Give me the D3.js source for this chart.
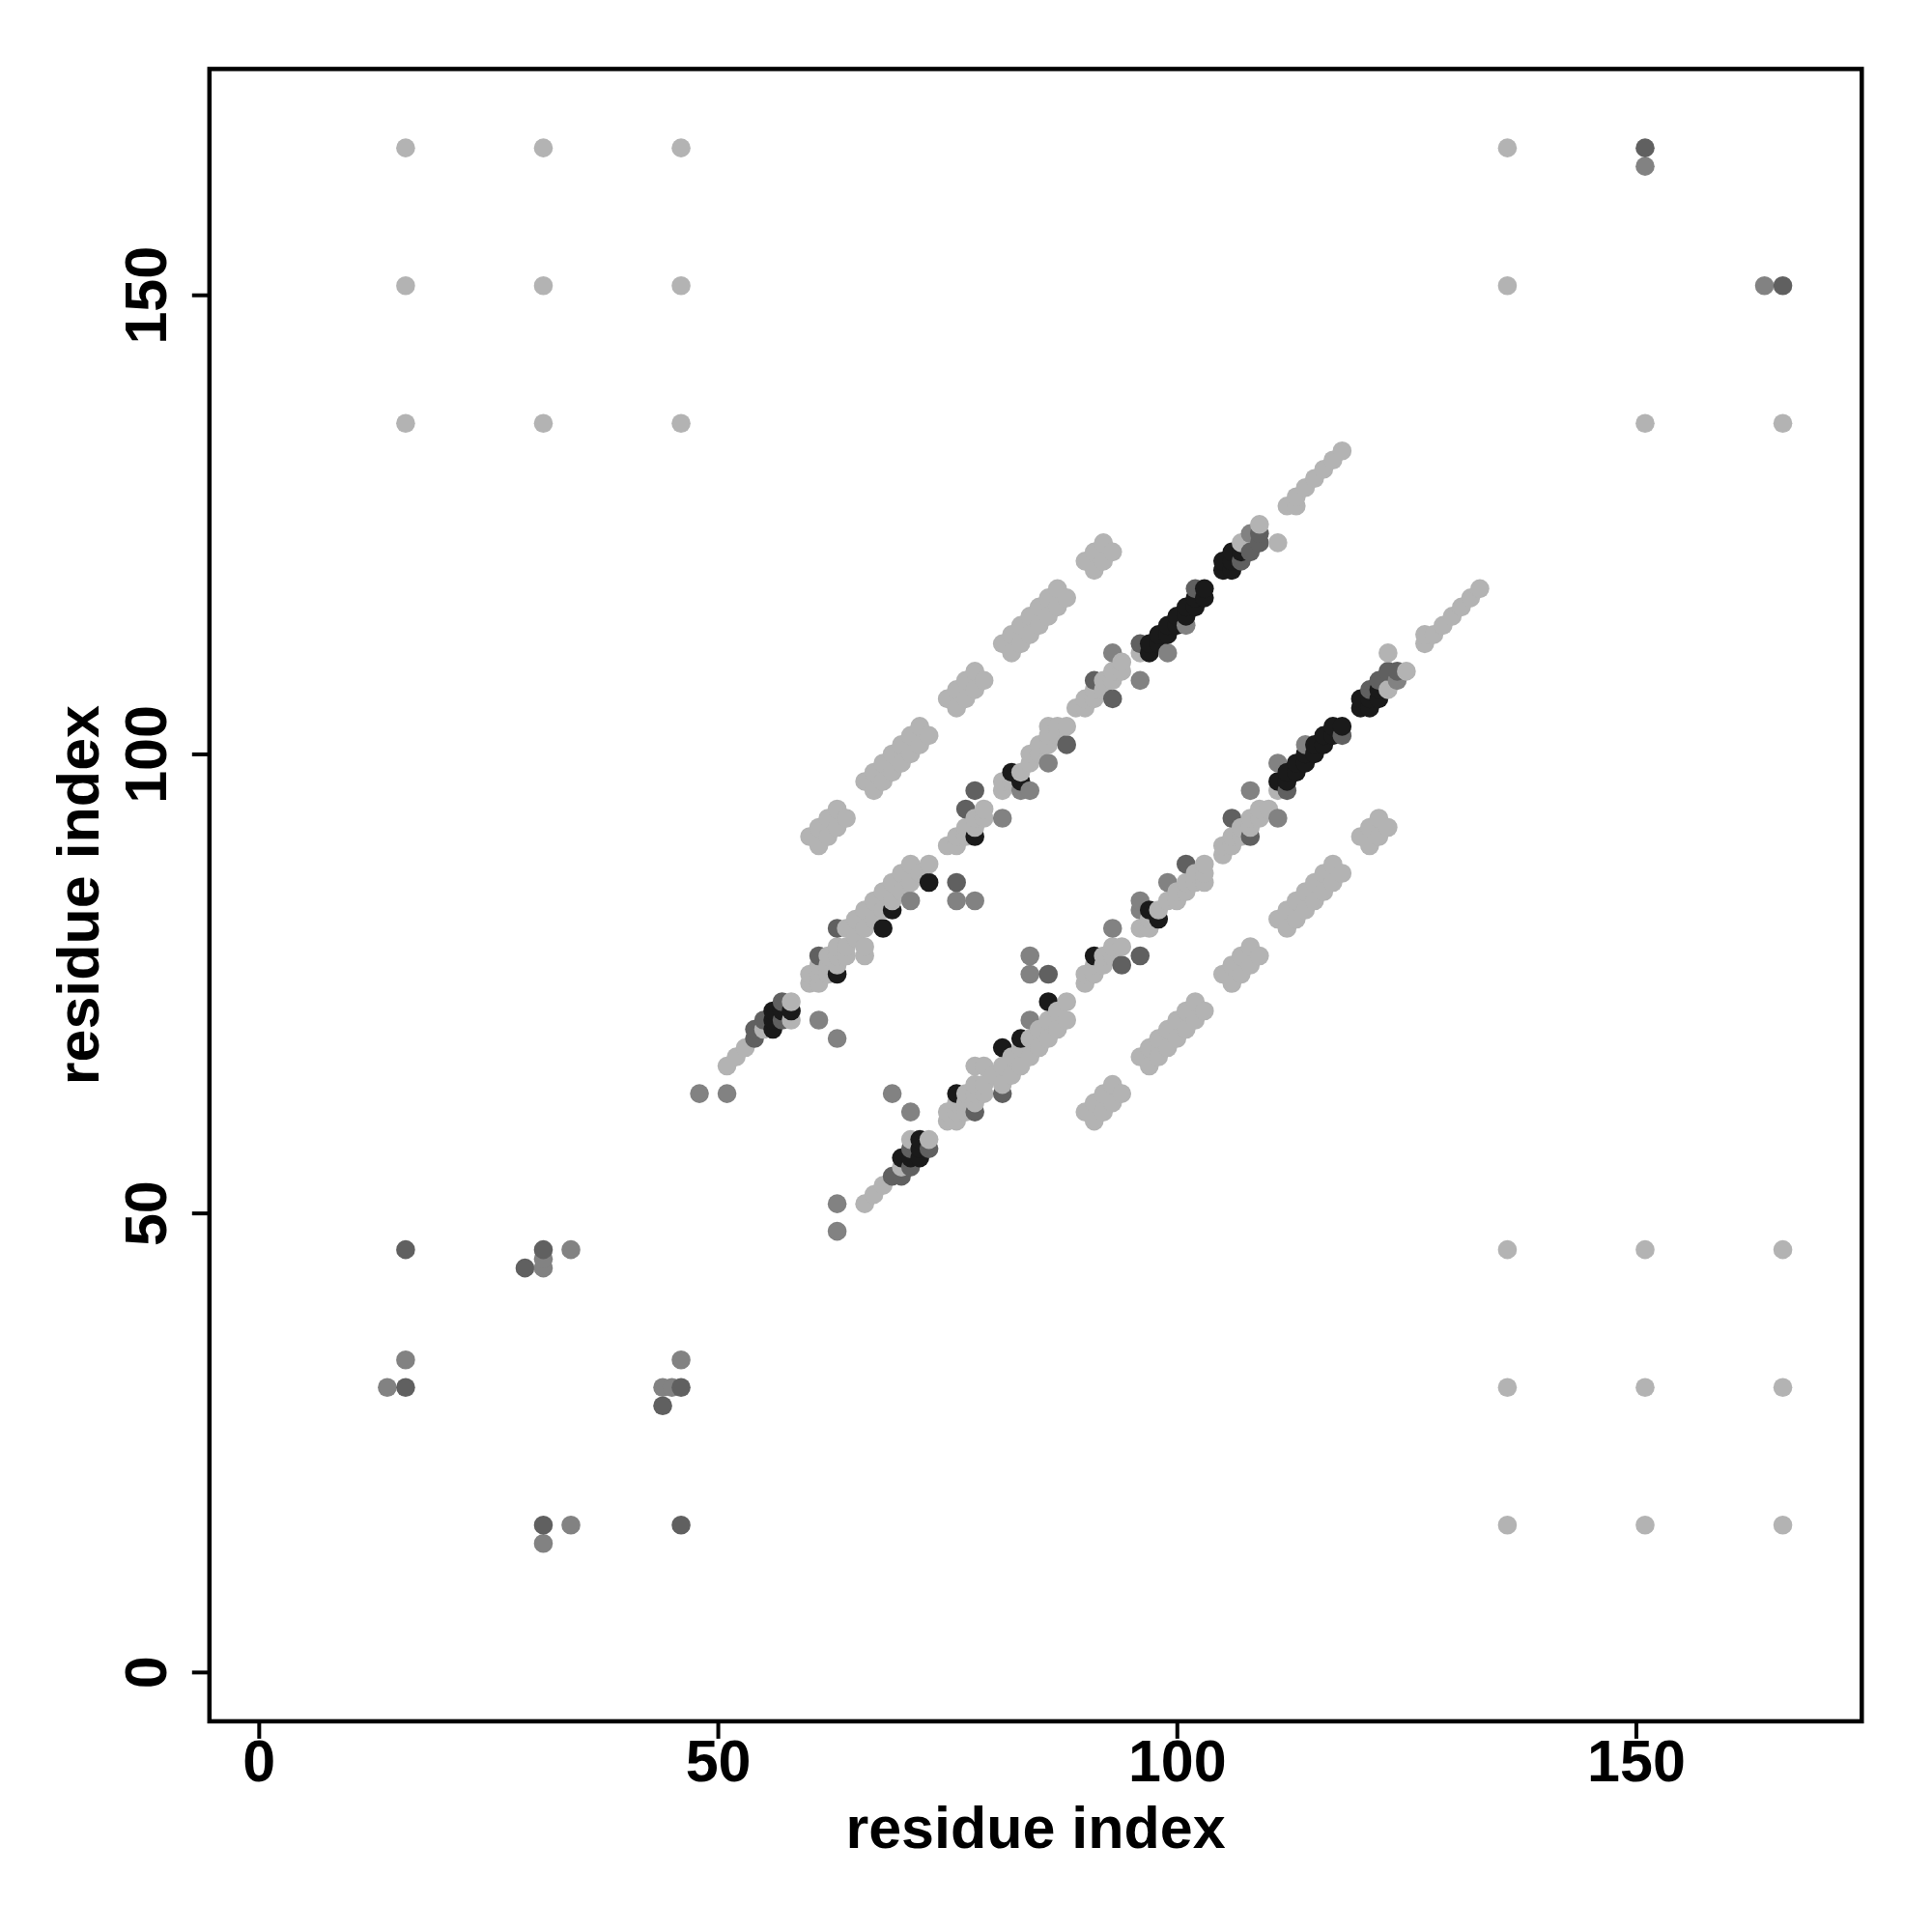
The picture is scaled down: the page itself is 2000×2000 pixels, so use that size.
<!DOCTYPE html>
<html>
<head>
<meta charset="utf-8">
<script src="https://cdn.jsdelivr.net/npm/d3@7"></script>
<style>
  html, body { margin: 0; padding: 0; background: #ffffff; }
  svg { display: block; }
</style>
</head>
<body>
<svg id="chart" width="2000" height="2000"></svg>
<script>
// Contact map: each contact [i, j] (i > j) is drawn at (i, j) and mirrored at (j, i).
const xTicks = [0, 50, 100, 150];
const yTicks = [0, 50, 100, 150];
const xTitle = "residue index";
const yTitle = "residue index";

const lightContacts = [
  [136,16],[136,31],[136,46],[151,16],[151,31],[151,46],[166,16],[166,31],[166,46],[151,136],[166,136],
  [66,51],[67,52],[68,53],[70,55],[71,58],[73,58],
  [75,60],[75,61],[76,60],[76,61],[76,62],[77,61],[77,62],[77,63],[78,62],[78,63],[78,64],[78,66],[79,63],[79,64],[79,66],
  [80,65],[81,64],[81,66],[82,65],[82,67],[83,66],[83,68],[84,67],[84,69],[85,68],[85,70],[86,69],[86,71],[87,70],[87,72],[88,71],[88,73],
  [90,75],[90,76],[91,76],[91,77],[92,77],[92,78],[93,78],[93,79],[94,79],
  [96,81],[97,81],[97,82],[98,83],[99,84],[100,84],[100,85],[101,85],[101,86],[102,86],[102,87],[103,86],[103,87],[103,88],
  [105,89],[105,90],[106,90],[106,91],[107,91],[107,92],[108,92],[108,93],[109,93],[109,94],[110,94],
  [111,96],[123,107],[123,111],[125,109],[127,112],[127,113],[128,113],[129,114],[130,115],[131,116],[132,117],[133,118],
  [90,61],[91,62],[92,63],[93,64],[91,60],[92,61],[93,62],[94,63],
  [96,67],[97,68],[98,69],[99,70],[100,71],[101,72],[102,73],[97,66],[98,67],[99,68],[100,69],[101,70],[102,71],[103,72],
  [105,76],[106,77],[107,78],[108,79],[106,75],[107,76],[108,77],[109,78],
  [111,82],[112,83],[113,84],[114,85],[115,86],[116,87],[117,88],[112,81],[113,82],[114,83],[115,84],[116,85],[117,86],[118,87],
  [120,91],[121,92],[122,93],[121,90],[122,91],[123,92]
];

const midContacts = [
  [164,151],[46,34],[45,31],[44,31],[34,16],[31,14],
  [63,48],[63,51],[69,63],[71,61],[84,71],[84,76],[84,78],[93,81],[96,83],[96,84],[99,86],
  [108,96],[111,93],[111,99],[114,101],[124,108]
];

const darkContacts = [
  [166,151],[46,16],[46,31],[44,29],[31,16],
  [69,54],[70,54],[71,55],[71,57],[73,57],[78,61],[81,63],[86,76],[94,77],[96,78],[101,88],
  [106,93],[108,91],[112,96],[118,102],[121,107],[122,108],[123,109],[124,109]
];

const blackContacts = [
  [70,56],[71,56],[72,56],[72,57],[72,58],[76,63],[81,68],[83,69],[86,73],[91,78],[97,83],[98,82],
  [111,97],[112,97],[112,98],[113,98],[113,99],[114,99],[114,100],[115,100],[115,101],[116,101],[116,102],[117,102],[117,103],[118,103],
  [120,105],[120,106],[121,105],[121,106],[122,106],[122,107]
];

const shadeColors = { light: "#b3b3b3", mid: "#828282", dark: "#606060", black: "#1a1a1a" };

const box = { left: 216.8, right: 1927.3, top: 71.4, bottom: 1781.9 };
const fontFamily = "'Liberation Sans', Arial, Helvetica, sans-serif";

const svg = d3.select("#chart");
svg.append("rect").attr("x", 0).attr("y", 0).attr("width", 2000).attr("height", 2000).attr("fill", "#ffffff");

const x = d3.scaleLinear().domain([-5.37, 174.6]).range([box.left, box.right]);
const y = d3.scaleLinear().domain([-5.37, 174.6]).range([box.bottom, box.top]);

// assemble points (both triangles)
const pts = [];
[["light", lightContacts], ["mid", midContacts], ["dark", darkContacts], ["black", blackContacts]].forEach(([shade, arr]) => {
  arr.forEach(([i, j]) => {
    pts.push({ px: i, py: j, shade });
    pts.push({ px: j, py: i, shade });
  });
});
pts.sort((a, b) => a.px - b.px || a.py - b.py);

svg.append("g")
  .selectAll("circle")
  .data(pts)
  .join("circle")
  .attr("cx", d => x(d.px))
  .attr("cy", d => y(d.py))
  .attr("r", 9.8)
  .attr("fill", d => shadeColors[d.shade]);

// frame
svg.append("rect")
  .attr("x", box.left).attr("y", box.top)
  .attr("width", box.right - box.left).attr("height", box.bottom - box.top)
  .attr("fill", "none").attr("stroke", "#000").attr("stroke-width", 4.5);

// x axis
const gx = svg.append("g")
  .attr("transform", `translate(0,${box.bottom})`)
  .call(d3.axisBottom(x).tickValues(xTicks).tickSize(18).tickFormat(d3.format("d")));
gx.select(".domain").remove();
gx.selectAll(".tick line").attr("stroke", "#000").attr("stroke-width", 4);
gx.selectAll(".tick text")
  .attr("dy", null).attr("y", 62)
  .attr("fill", "#000")
  .style("font-family", fontFamily).style("font-weight", "bold").style("font-size", "61px");

// y axis
const gy = svg.append("g")
  .attr("transform", `translate(${box.left},0)`)
  .call(d3.axisLeft(y).tickValues(yTicks).tickSize(18).tickFormat(d3.format("d")));
gy.select(".domain").remove();
gy.selectAll(".tick line").attr("stroke", "#000").attr("stroke-width", 4);
gy.selectAll(".tick text")
  .attr("x", null).attr("dy", null).attr("y", null)
  .attr("text-anchor", "middle")
  .attr("transform", "translate(-45,0) rotate(-90)")
  .attr("fill", "#000")
  .style("font-family", fontFamily).style("font-weight", "bold").style("font-size", "61px");

// titles
svg.append("text")
  .attr("x", (box.left + box.right) / 2).attr("y", 1913)
  .attr("text-anchor", "middle")
  .style("font-family", fontFamily).style("font-weight", "bold").style("font-size", "61px")
  .text(xTitle);

svg.append("text")
  .attr("transform", `translate(102,${(box.top + box.bottom) / 2}) rotate(-90)`)
  .attr("text-anchor", "middle")
  .style("font-family", fontFamily).style("font-weight", "bold").style("font-size", "61px")
  .text(yTitle);
</script>
</body>
</html>
